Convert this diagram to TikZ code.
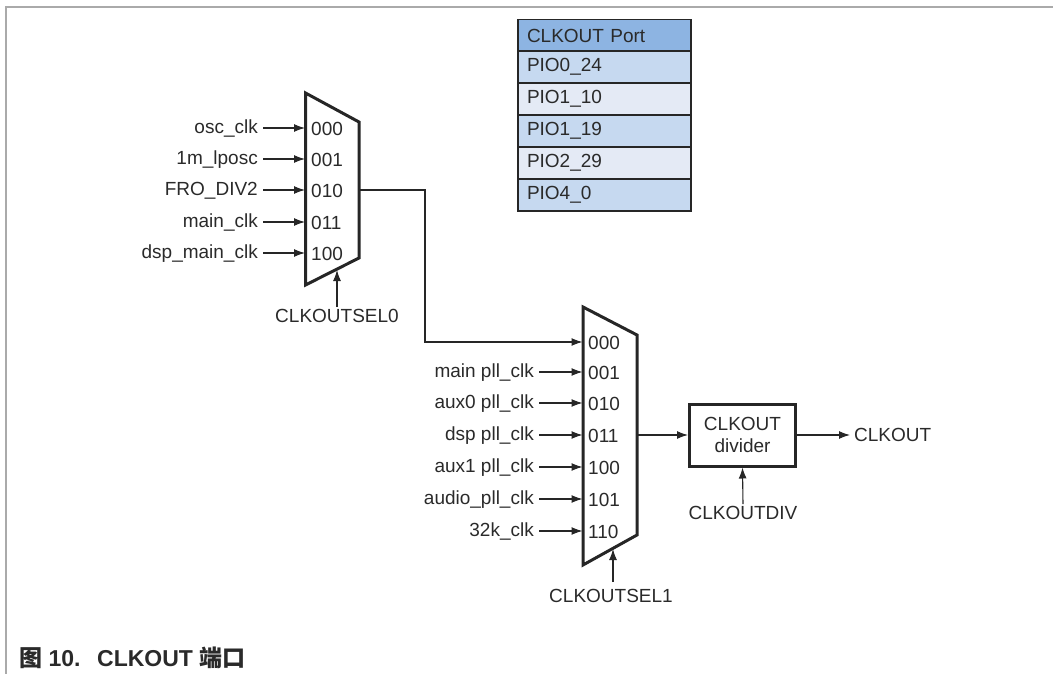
\documentclass[tikz,border=0pt]{standalone}
\usepackage{fontspec}
\setmainfont{Liberation Sans}
\newfontfamily\cjk{Noto Sans CJK SC}
\usetikzlibrary{arrows.meta}
\definecolor{hdr}{HTML}{8DB4E2}
\definecolor{rowa}{HTML}{C6D9F0}
\definecolor{rowb}{HTML}{E4EAF5}
\definecolor{txt}{HTML}{2A2A2A}
\definecolor{frame}{HTML}{AAAAAA}
\tikzset{
  lbl/.style={font=\fontsize{19}{21}\selectfont, text=txt, inner xsep=5pt, inner ysep=2pt},
  cell/.style={draw=black!85, line width=1.8pt, minimum width=173pt, minimum height=32pt,
    text width=155pt, align=left, inner sep=0pt, font=\fontsize{19}{21}\selectfont, text=txt},
  sig/.style={-{Latex[length=11pt,width=8pt]}, line width=1.1pt, draw=black!85},
  muxline/.style={line width=3pt, draw=black!85, line join=miter},
}
\begin{document}
\begin{tikzpicture}[x=1pt,y=-1pt]
\useasboundingbox (0,0) rectangle (1053,674);
\draw[frame, line width=2pt] (6,674) -- (6,7) -- (1053,7);

% table
\node[cell, fill=hdr]  (t0) at (604.5,35.5)  {CLKOUT Port};
\node[cell, fill=rowa] (t1) at (604.5,67)  {PIO0\_24};
\node[cell, fill=rowb] (t2) at (604.5,99)  {PIO1\_10};
\node[cell, fill=rowa] (t3) at (604.5,131) {PIO1\_19};
\node[cell, fill=rowb] (t4) at (604.5,163) {PIO2\_29};
\node[cell, fill=rowa] (t5) at (604.5,195) {PIO4\_0};

% mux 0
\draw[muxline] (305.5,93) -- (359,122) -- (359,258) -- (305.5,285) -- cycle;
\foreach \y/\n/\code/\name in {128/a0/000/osc\_clk, 159/a1/001/1m\_lposc, 190/a2/010/FRO\_DIV2, 222/a3/011/main\_clk, 253/a4/100/dsp\_main\_clk}{
  \coordinate (in\n) at (305,\y);
  \node[lbl, anchor=east] (l\n) at (263,\y+1) {\name};
  \node[lbl, anchor=west, inner xsep=0pt] (c\n) at (311,\y+1) {\code};
  \draw[sig] (l\n.east |- in\n) -- (in\n);
}
\coordinate (sel0) at (337,270);
\node[lbl] (s0) at (337,316) {CLKOUTSEL0};
\draw[sig] (s0.north) -- (sel0);
\coordinate (out0) at (359,190);

% mux 1
\draw[muxline] (583,307) -- (637,335) -- (637,535) -- (583,565) -- cycle;
\coordinate (inb0) at (582.5,342);
\node[lbl, anchor=west, inner xsep=0pt] (cb0) at (588,343) {000};
\foreach \y/\n/\code/\name in {372/b1/001/main pll\_clk, 403/b2/010/aux0 pll\_clk, 435/b3/011/dsp pll\_clk, 467/b4/100/aux1 pll\_clk, 499/b5/101/audio\_pll\_clk, 531/b6/110/32k\_clk}{
  \coordinate (in\n) at (582.5,\y);
  \node[lbl, anchor=east] (l\n) at (539,\y+1) {\name};
  \node[lbl, anchor=west, inner xsep=0pt] (c\n) at (588,\y+1) {\code};
  \draw[sig] (l\n.east |- in\n) -- (in\n);
}
\draw[sig] (out0) -- (425,190) -- (425,342) -- (inb0);
\coordinate (sel1) at (613,549);
\node[lbl] (s1) at (611,596) {CLKOUTSEL1};
\draw[sig] (613,582) -- (sel1);
\coordinate (out1) at (637,435);

% divider
\node[draw=black!85, line width=3pt, minimum width=106pt, minimum height=62pt, align=center,
  font=\fontsize{19}{22}\selectfont, text=txt, inner sep=0pt] (div) at (742.5,435) {CLKOUT\\divider};
\draw[sig] (out1) -- (div.west);
\node[lbl, anchor=west, inner xsep=4pt] (clkout) at (850,435) {CLKOUT};
\draw[sig] (div.east) -- (div.east -| clkout.west);
\node[lbl] (cdiv) at (743,513) {CLKOUTDIV};
\draw[sig] (cdiv.north) -- (div.south);

% caption
\node[anchor=west, inner sep=0pt, text=txt, font=\fontsize{23}{27}\selectfont\bfseries] (cap) at (19,658)
  {{\cjk 图} 10.\ \ \,CLKOUT {\cjk 端口}};
\end{tikzpicture}
\end{document}
